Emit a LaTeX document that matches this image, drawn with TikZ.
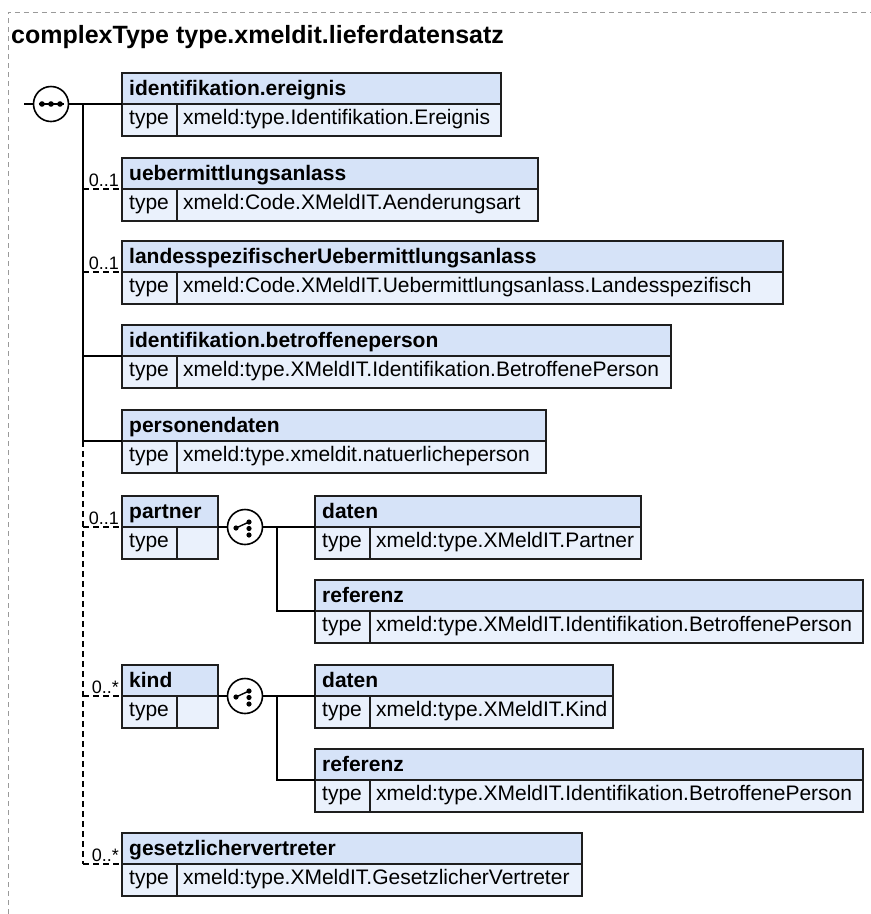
\documentclass[tikz,border=0pt]{standalone}
\usepackage{fontspec}
\setmainfont{Liberation Sans}
\definecolor{hdrc}{HTML}{D6E3F8}
\definecolor{rowc}{HTML}{EAF1FC}
\definecolor{bordc}{HTML}{1E1E1E}
\definecolor{framec}{HTML}{9A9A9A}
\tikzset{
  bd/.style={draw=bordc, line width=1.8pt},
  conn/.style={draw=black, line width=1.6pt},
  dconn/.style={draw=black, line width=1.6pt, dash pattern=on 6pt off 4pt},
  hdrtext/.style={anchor=base west, inner sep=0pt, font=\fontsize{21}{25}\selectfont\bfseries},
  rowtext/.style={anchor=base west, inner sep=0pt, font=\fontsize{21}{25}\selectfont},
  lbl/.style={anchor=base east, inner sep=0pt, font=\fontsize{18}{21}\selectfont},
  icon/.style={circle, draw=black, line width=1.6pt, fill=white, inner sep=0pt, minimum size=35pt},
}
% #1 name, #2 left x, #3 divider y, #4 right x, #5 header, #6 type text
\newcommand\elembox[6]{%
  \fill[hdrc] (#2,#3-31) rectangle (#4,#3);
  \fill[rowc] (#2,#3) rectangle (#4,#3+32);
  \draw[bd] (#2,#3-31) rectangle (#4,#3+32);
  \draw[bd] (#2,#3) -- (#4,#3);
  \draw[bd] (#2+55,#3) -- (#2+55,#3+32);
  \coordinate (#1-w) at (#2,#3);
  \node[hdrtext] (#1) at (#2+7,#3-9) {#5};
  \node[rowtext] (#1-t) at (#2+7,#3+20) {type};
  \node[rowtext] (#1-v) at (#2+61,#3+20) {#6};
}
\newcommand\choiceicon[1]{%
  \draw[line width=1.4pt] ([shift={(-9,1)}]#1.center) -- ([shift={(4,-5)}]#1.center);
  \fill ([shift={(-9,1)}]#1.center) circle (2.6);
  \fill ([shift={(4,-5)}]#1.center) circle (2.6);
  \fill ([shift={(4,1.5)}]#1.center) circle (2.6);
  \fill ([shift={(4,8)}]#1.center) circle (2.6);
}
\begin{document}
\begin{tikzpicture}[x=1pt,y=-1pt]
\useasboundingbox (0,0) rectangle (871,914);
% outer frame
\draw[framec, line width=1pt, dash pattern=on 5pt off 4pt] (8,914) -- (8,12) -- (871,12);
\node[anchor=base west, inner sep=0pt, font=\fontsize{25}{30}\selectfont\bfseries] (title) at (11,43) {complexType type.xmeldit.lieferdatensatz};

% coordinates of the trunk
\coordinate (s0) at (24,104);
\coordinate (j0) at (83,104);
\coordinate (j5) at (83,441);
\coordinate (jend) at (83,864);

\node[icon] (seq) at (51,104) {};
\elembox{e1}{122}{104}{501}{identifikation.ereignis}{xmeld:type.Identifikation.Ereignis}
\elembox{e2}{122}{189}{538}{uebermittlungsanlass}{xmeld:Code.XMeldIT.Aenderungsart}
\elembox{e3}{122}{272}{783}{landesspezifischerUebermittlungsanlass}{xmeld:Code.XMeldIT.Uebermittlungsanlass.Landesspezifisch}
\elembox{e4}{122}{356}{671}{identifikation.betroffeneperson}{xmeld:type.XMeldIT.Identifikation.BetroffenePerson}
\elembox{e5}{122}{441}{546}{personendaten}{xmeld:type.xmeldit.natuerlicheperson}
\elembox{e6}{122}{527}{218}{partner}{}
\elembox{e7}{315}{527}{641}{daten}{xmeld:type.XMeldIT.Partner}
\elembox{e8}{315}{611}{863}{referenz}{xmeld:type.XMeldIT.Identifikation.BetroffenePerson}
\elembox{e9}{122}{696}{218}{kind}{}
\elembox{e10}{315}{696}{613}{daten}{xmeld:type.XMeldIT.Kind}
\elembox{e11}{315}{780}{863}{referenz}{xmeld:type.XMeldIT.Identifikation.BetroffenePerson}
\elembox{e12}{122}{864}{582}{gesetzlichervertreter}{xmeld:type.XMeldIT.GesetzlicherVertreter}

% sequence
\draw[conn] (s0) -- (seq.west);
\draw[conn] (seq.east) -- (e1-w);
\draw[line width=1.4pt] ([xshift=-12.5]seq.center) -- ([xshift=12.5]seq.center);
\fill ([xshift=-9]seq.center) circle (2.8);
\fill (seq.center) circle (2.8);
\fill ([xshift=9]seq.center) circle (2.8);

% trunk
\draw[conn] (j0) -- (j5);
\draw[dconn] (j5) -- (jend);
\draw[dconn] (j0 |- e2-w) -- (e2-w);
\draw[dconn] (j0 |- e3-w) -- (e3-w);
\draw[conn] (j0 |- e4-w) -- (e4-w);
\draw[conn] (j5) -- (e5-w);
\draw[dconn] (j0 |- e6-w) -- (e6-w);
\draw[dconn] (j0 |- e9-w) -- (e9-w);
\draw[dconn] (jend) -- (e12-w);

\node[lbl] (m2) at (119,186) {0..1};
\node[lbl] (m3) at (119,269) {0..1};
\node[lbl] (m6) at (119,524) {0..1};
\node[lbl] (m9) at (119,693) {0..*};
\node[lbl] (m12) at (119,861) {0..*};

% choice for partner
\node[icon] (ch1) at (245,527) {};
\coordinate (cj1) at (277,527);
\draw[conn] (e6-w -| 218,0) -- (ch1.west);
\draw[conn] (ch1.east) -- (e7-w);
\draw[conn] (cj1) -- (cj1 |- e8-w) -- (e8-w);
\choiceicon{ch1}

% choice for kind
\node[icon] (ch2) at (245,696) {};
\coordinate (cj2) at (277,696);
\draw[conn] (e9-w -| 218,0) -- (ch2.west);
\draw[conn] (ch2.east) -- (e10-w);
\draw[conn] (cj2) -- (cj2 |- e11-w) -- (e11-w);
\choiceicon{ch2}
\end{tikzpicture}
\end{document}
